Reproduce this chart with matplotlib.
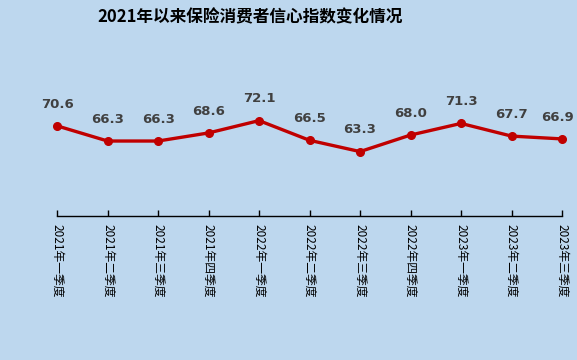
import matplotlib
matplotlib.use("Agg")
import matplotlib.pyplot as plt

plt.rcParams['font.family'] = ['Noto Sans CJK SC', 'DejaVu Sans']

# 数据
quarters = ["2021年一季度", "2021年二季度", "2021年三季度", "2021年四季度",
            "2022年一季度", "2022年二季度", "2022年三季度", "2022年四季度",
            "2023年一季度", "2023年二季度", "2023年三季度"]
index_values = [70.6, 66.3, 66.3, 68.6, 72.1, 66.5, 63.3, 68.0, 71.3, 67.7, 66.9]

bg = "#BDD7EE"
red = "#C00000"

fig = plt.figure(figsize=(5.77, 3.6), dpi=100, facecolor=bg)
ax = fig.add_axes([0.099, 0.40, 0.875, 0.44], facecolor=bg)

x = list(range(len(quarters)))
ax.plot(x, index_values, color=red, lw=2.4, marker="o", ms=5.5, zorder=3,
        clip_on=False)

for i, (xi, v) in enumerate(zip(x, index_values)):
    dx = -3 if i == len(x) - 1 else 0
    ax.annotate(f"{v:.1f}", (xi, v), xytext=(dx, 11), textcoords="offset points",
                ha="center", va="bottom", fontsize=9.5, fontweight="bold",
                color="#404040", family=["DejaVu Sans"])

ax.set_xlim(0, len(quarters) - 1)
ax.set_ylim(45, 90)
ax.set_yticks([])
ax.set_xticks(x)
ax.set_xticklabels(quarters, rotation=270, fontsize=8.5, va="top", ha="center")
ax.tick_params(axis="x", direction="in", length=4, width=1, pad=6, color="black")

for side in ["top", "right", "left"]:
    ax.spines[side].set_visible(False)
ax.spines["bottom"].set_color("black")
ax.spines["bottom"].set_linewidth(1)

fig.text(0.433, 0.952, "2021年以来保险消费者信心指数变化情况", ha="center", va="center",
         fontsize=12, fontweight="bold", color="black")

fig.savefig("out.png", dpi=100, facecolor=bg)
